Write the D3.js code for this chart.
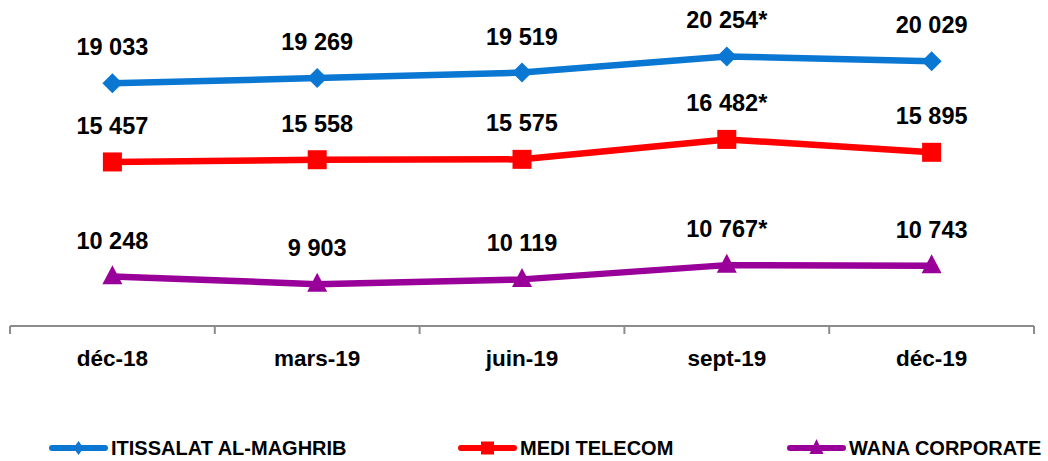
<!DOCTYPE html>
<html><head><meta charset="utf-8">
<script src="https://cdn.jsdelivr.net/npm/d3@7"></script>
<style>body{margin:0;background:#fff}svg{display:block}text{font-family:"Liberation Sans",Arial,sans-serif;font-weight:bold;fill:#000}</style>
</head><body><svg id="c" width="1048" height="461"></svg>
<script>
const categories = ["déc-18","mars-19","juin-19","sept-19","déc-19"];
const seriesNames = ["ITISSALAT AL-MAGHRIB","MEDI TELECOM","WANA CORPORATE"];
const iam = [19033,19269,19519,20254,20029];
const medi = [15457,15558,15575,16482,15895];
const wana = [10248,9903,10119,10767,10743];
const labelSuffix = ["","","","*",""];
const colors = ["#0A77D3","#FF0000","#990099"];

// custom marker shapes (w,h from size)
function diamond(w,h){return {draw(c){c.moveTo(0,-h/2);c.lineTo(w/2,0);c.lineTo(0,h/2);c.lineTo(-w/2,0);c.closePath();}};}
function square(w,h){return {draw(c){c.moveTo(-w/2,-h/2);c.lineTo(w/2,-h/2);c.lineTo(w/2,h/2);c.lineTo(-w/2,h/2);c.closePath();}};}
function triangle(w,h){return {draw(c){c.moveTo(0,-h*0.6);c.lineTo(w/2,h*0.4);c.lineTo(-w/2,h*0.4);c.closePath();}};}
const chartSymbols = [diamond(20,20), square(19,19), triangle(20,19)];
const legendSymbols = [diamond(10,14), square(13,13), triangle(14,15)];

const svg = d3.select("#c");
const x = d3.scaleBand().domain(categories).range([10,1034]);
const y = d3.scaleLinear().domain([8000,22000]).range([326,18]);

svg.append("line").attr("x1",10).attr("x2",1034).attr("y1",326).attr("y2",326)
  .attr("stroke","#8c8c8c").attr("stroke-width",2);
const edges = categories.map(c=>x(c)).concat([x(categories[categories.length-1])+x.bandwidth()]);
svg.selectAll("line.tk").data(edges).enter().append("line").attr("class","tk")
  .attr("x1",d=>d).attr("x2",d=>d).attr("y1",326).attr("y2",334)
  .attr("stroke","#8c8c8c").attr("stroke-width",2);
svg.selectAll("text.cat").data(categories).enter().append("text").attr("class","cat")
  .attr("x",d=>x(d)+x.bandwidth()/2).attr("y",366).attr("text-anchor","middle")
  .style("font-size","22.5px").text(d=>d);

const cx = d=>x(d)+x.bandwidth()/2;
const data = [iam,medi,wana];
const line = d3.line().x((d,i)=>cx(categories[i])).y(d=>y(d));
const fmt = v => d3.format(",")(v).replace(",", " ");
data.forEach((vals,s)=>{
  svg.append("path").attr("d",line(vals)).attr("fill","none")
    .attr("stroke",colors[s]).attr("stroke-width",6.5).attr("stroke-linejoin","round");
  svg.selectAll("path.m"+s).data(vals).enter().append("path").attr("class","m"+s)
    .attr("d",d3.symbol().type(chartSymbols[s]))
    .attr("transform",(d,i)=>`translate(${cx(categories[i])},${y(d)})`)
    .attr("fill",colors[s]);
  svg.selectAll("text.l"+s).data(vals).enter().append("text").attr("class","l"+s)
    .attr("x",(d,i)=>cx(categories[i])).attr("y",d=>y(d)-28).attr("text-anchor","middle")
    .style("font-size","23.5px")
    .text((d,i)=>fmt(d)+labelSuffix[i]);
});

const legX = [50,459,788];
seriesNames.forEach((n,s)=>{
  const g = svg.append("g").attr("transform",`translate(${legX[s]},448)`);
  g.append("line").attr("x1",2).attr("x2",55).attr("stroke",colors[s]).attr("stroke-width",6).attr("stroke-linecap","round");
  g.append("path").attr("d",d3.symbol().type(legendSymbols[s])).attr("transform",`translate(28.5,0)`).attr("fill",colors[s]);
  g.append("text").attr("x",61).attr("y",7).style("font-size","20px").text(n);
});
</script></body></html>
